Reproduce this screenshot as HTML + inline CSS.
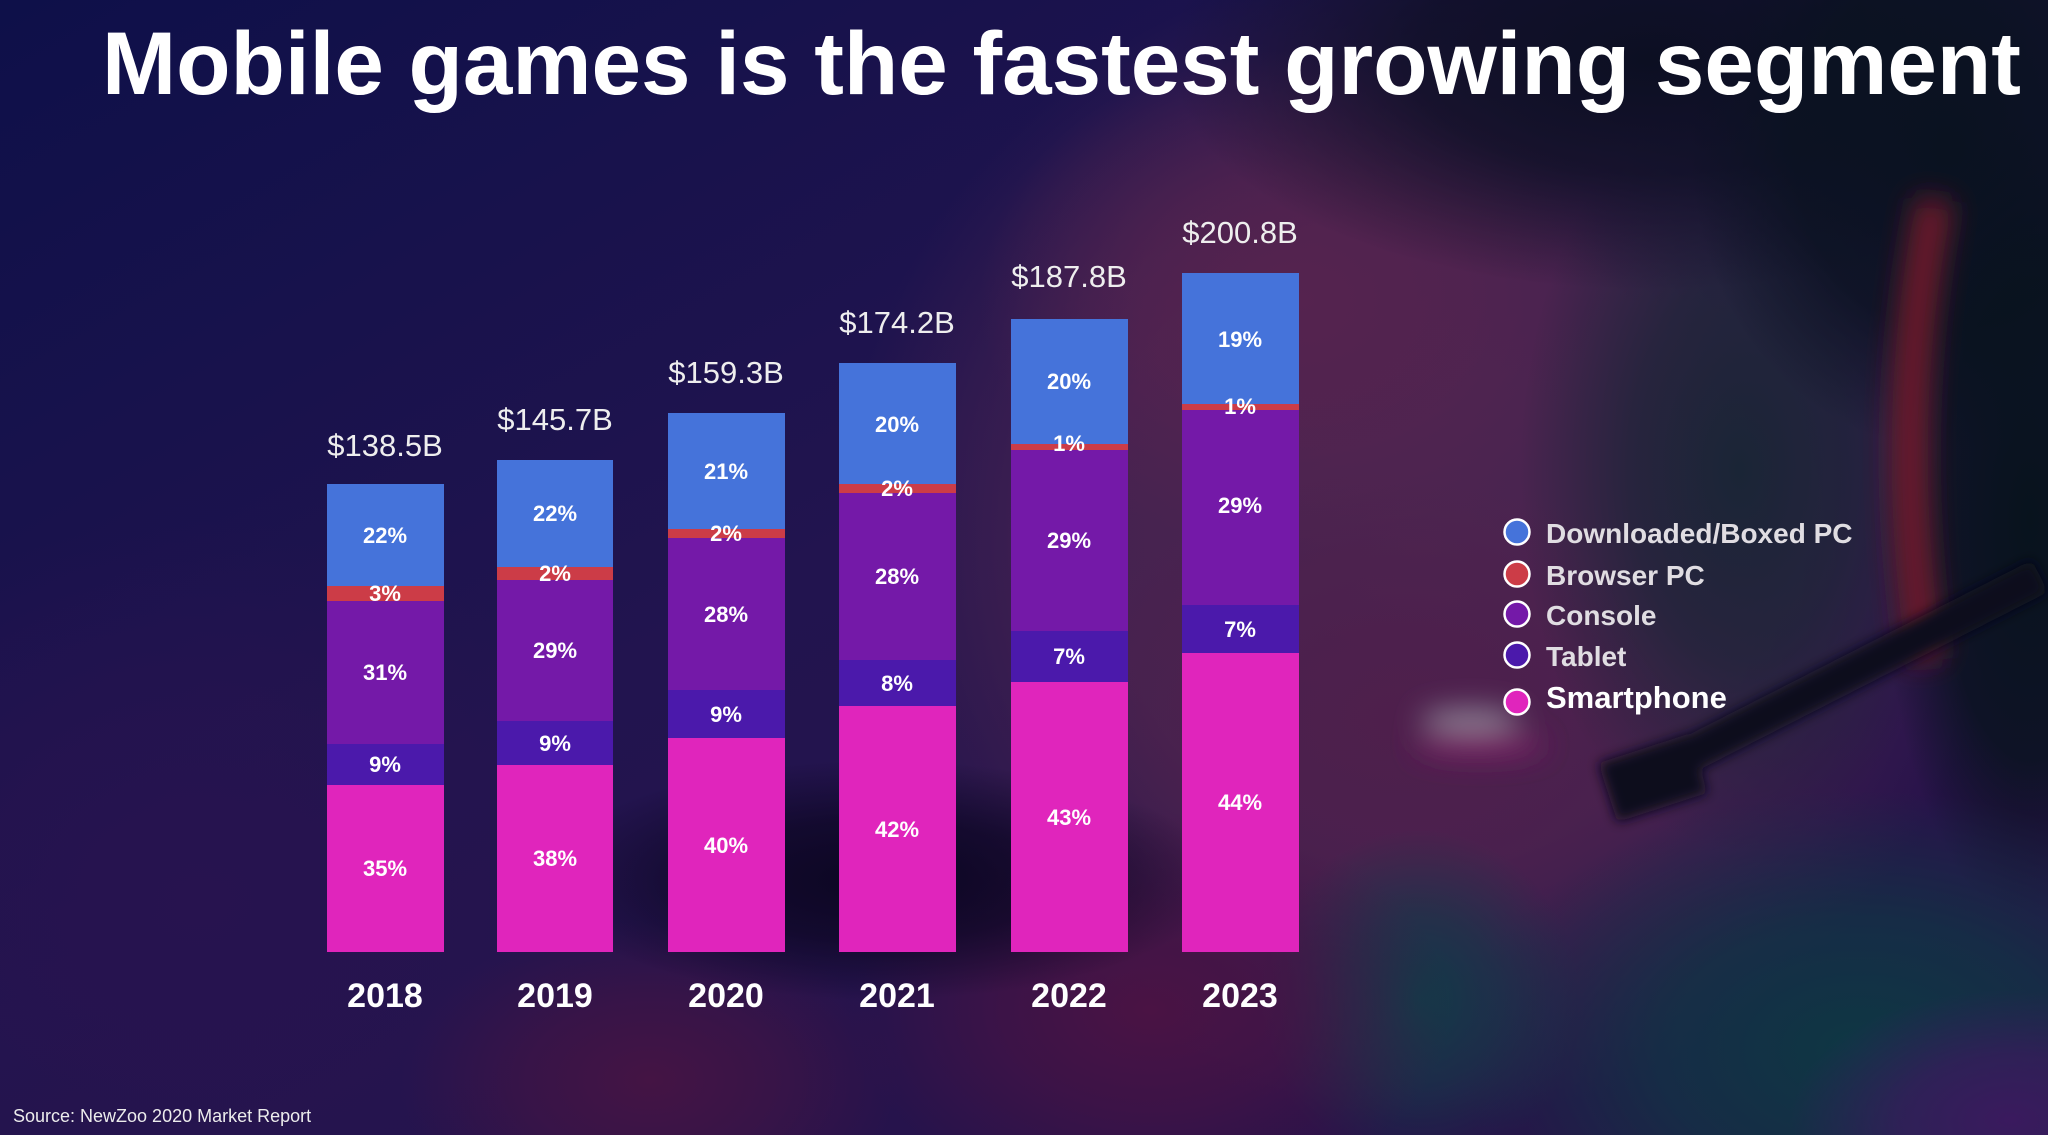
<!DOCTYPE html>
<html><head><meta charset="utf-8"><style>
html,body{margin:0;padding:0;width:2048px;height:1135px;overflow:hidden;background:#1a1250;}
#bg{position:absolute;left:0;top:0;width:2048px;height:1135px;
background:
radial-gradient(340px 120px at 880px 880px, rgba(12,6,34,1) 0%, rgba(12,6,34,0.7) 50%, rgba(12,6,34,0) 100%),
radial-gradient(300px 200px at 1150px 1010px, rgba(74,19,68,1) 0%, rgba(74,19,68,0.6) 50%, rgba(74,19,68,0) 100%),
radial-gradient(250px 160px at 650px 1080px, rgba(68,20,68,1) 0%, rgba(68,20,68,0.6) 50%, rgba(68,20,68,0) 100%),
radial-gradient(160px 170px at 1420px 1000px, rgba(18,58,72,1) 0%, rgba(18,58,72,0.6) 50%, rgba(18,58,72,0) 100%),
radial-gradient(220px 130px at 2010px 1120px, rgba(58,26,94,1) 0%, rgba(58,26,94,0.7) 50%, rgba(58,26,94,0) 100%),
radial-gradient(400px 260px at 1860px 1050px, rgba(14,55,68,1) 0%, rgba(14,55,68,0.7) 50%, rgba(14,55,68,0) 100%),
radial-gradient(150px 400px at 2030px 520px, rgba(8,19,29,1) 0%, rgba(8,19,29,0.8) 60%, rgba(8,19,29,0) 100%),
radial-gradient(260px 300px at 1950px 150px, rgba(10,18,32,1) 0%, rgba(10,18,32,0.8) 60%, rgba(10,18,32,0) 100%),
radial-gradient(480px 230px at 1650px 60px, rgba(12,15,34,1) 0%, rgba(12,15,34,0.75) 50%, rgba(12,15,34,0) 100%),
radial-gradient(220px 380px at 1740px 470px, rgba(26,37,54,1) 0%, rgba(26,37,54,0.7) 50%, rgba(26,37,54,0) 100%),
radial-gradient(330px 250px at 1400px 720px, rgba(78,31,76,1) 0%, rgba(78,31,76,0.6) 50%, rgba(78,31,76,0) 100%),
radial-gradient(320px 250px at 1300px 300px, rgba(85,35,79,1) 0%, rgba(85,35,79,0.65) 50%, rgba(85,35,79,0) 100%),
radial-gradient(580px 580px at 1420px 540px, rgba(76,37,80,1) 0%, rgba(76,37,80,0.85) 55%, rgba(76,37,80,0) 100%),
radial-gradient(450px 380px at 200px 900px, rgba(39,19,79,1) 0%, rgba(39,19,79,0.6) 50%, rgba(39,19,79,0) 100%),
linear-gradient(to bottom right, #0e1049 0%, #22144f 45%, #2a1248 100%);}
svg{display:block;position:absolute;left:0;top:0}
</style></head><body>
<div id="bg"></div>
<svg width="2048" height="1135" viewBox="0 0 2048 1135" xmlns="http://www.w3.org/2000/svg">
<defs>
<filter id="b2" x="-50%" y="-50%" width="200%" height="200%"><feGaussianBlur stdDeviation="14"/></filter>
<filter id="b3" x="-50%" y="-50%" width="200%" height="200%"><feGaussianBlur stdDeviation="6"/></filter>
</defs>
<g filter="url(#b2)">
<path d="M1935 200 Q1890 420 1925 660" stroke="#6e1c2c" stroke-width="36" fill="none"/>
<ellipse cx="1470" cy="720" rx="50" ry="12" fill="#8a7e92"/>
<ellipse cx="1480" cy="745" rx="65" ry="12" fill="#7a2066"/>
</g>
<g filter="url(#b3)">
<line x1="1620" y1="790" x2="2040" y2="576" stroke="#0b0a1a" stroke-width="36"/>
<rect x="1606" y="748" width="95" height="62" fill="#0b0a1a" transform="rotate(-18 1650 780)"/>
</g>

<text x="102" y="94" font-family="Liberation Sans, sans-serif" font-weight="bold" font-size="89" fill="#ffffff">Mobile games is the fastest growing segment</text>

<g font-family="Liberation Sans, sans-serif">
<!-- 2018 -->
<rect x="327" y="484" width="117" height="102" fill="#4573da"/>
<rect x="327" y="586" width="117" height="15" fill="#cc3c47"/>
<rect x="327" y="601" width="117" height="143" fill="#7419a8"/>
<rect x="327" y="744" width="117" height="41" fill="#4b19ab"/>
<rect x="327" y="785" width="117" height="167" fill="#e025bc"/>
<!-- 2019 -->
<rect x="497" y="460" width="116" height="107" fill="#4573da"/>
<rect x="497" y="567" width="116" height="13" fill="#cc3c47"/>
<rect x="497" y="580" width="116" height="141" fill="#7419a8"/>
<rect x="497" y="721" width="116" height="44" fill="#4b19ab"/>
<rect x="497" y="765" width="116" height="187" fill="#e025bc"/>
<!-- 2020 -->
<rect x="668" y="413" width="117" height="116" fill="#4573da"/>
<rect x="668" y="529" width="117" height="9" fill="#cc3c47"/>
<rect x="668" y="538" width="117" height="152" fill="#7419a8"/>
<rect x="668" y="690" width="117" height="48" fill="#4b19ab"/>
<rect x="668" y="738" width="117" height="214" fill="#e025bc"/>
<!-- 2021 -->
<rect x="839" y="363" width="117" height="121" fill="#4573da"/>
<rect x="839" y="484" width="117" height="9" fill="#cc3c47"/>
<rect x="839" y="493" width="117" height="167" fill="#7419a8"/>
<rect x="839" y="660" width="117" height="46" fill="#4b19ab"/>
<rect x="839" y="706" width="117" height="246" fill="#e025bc"/>
<!-- 2022 -->
<rect x="1011" y="319" width="117" height="125" fill="#4573da"/>
<rect x="1011" y="444" width="117" height="6" fill="#cc3c47"/>
<rect x="1011" y="450" width="117" height="181" fill="#7419a8"/>
<rect x="1011" y="631" width="117" height="51" fill="#4b19ab"/>
<rect x="1011" y="682" width="117" height="270" fill="#e025bc"/>
<!-- 2023 -->
<rect x="1182" y="273" width="117" height="131" fill="#4573da"/>
<rect x="1182" y="404" width="117" height="6" fill="#cc3c47"/>
<rect x="1182" y="410" width="117" height="195" fill="#7419a8"/>
<rect x="1182" y="605" width="117" height="48" fill="#4b19ab"/>
<rect x="1182" y="653" width="117" height="299" fill="#e025bc"/>

<g font-size="22" font-weight="bold" fill="#ffffff" text-anchor="middle">
<text x="385" y="543">22%</text><text x="385" y="601">3%</text><text x="385" y="680">31%</text><text x="385" y="772">9%</text><text x="385" y="876">35%</text>
<text x="555" y="521">22%</text><text x="555" y="581">2%</text><text x="555" y="658">29%</text><text x="555" y="751">9%</text><text x="555" y="866">38%</text>
<text x="726" y="479">21%</text><text x="726" y="541">2%</text><text x="726" y="622">28%</text><text x="726" y="722">9%</text><text x="726" y="853">40%</text>
<text x="897" y="432">20%</text><text x="897" y="496">2%</text><text x="897" y="584">28%</text><text x="897" y="691">8%</text><text x="897" y="837">42%</text>
<text x="1069" y="389">20%</text><text x="1069" y="451">1%</text><text x="1069" y="548">29%</text><text x="1069" y="664">7%</text><text x="1069" y="825">43%</text>
<text x="1240" y="347">19%</text><text x="1240" y="414">1%</text><text x="1240" y="513">29%</text><text x="1240" y="637">7%</text><text x="1240" y="810">44%</text>
</g>

<g font-size="31" fill="#eeeeee" text-anchor="middle">
<text x="385" y="456">$138.5B</text>
<text x="555" y="430">$145.7B</text>
<text x="726" y="383">$159.3B</text>
<text x="897" y="333">$174.2B</text>
<text x="1069" y="287">$187.8B</text>
<text x="1240" y="243">$200.8B</text>
</g>

<g font-size="34" font-weight="bold" fill="#ffffff" text-anchor="middle">
<text x="385" y="1007">2018</text>
<text x="555" y="1007">2019</text>
<text x="726" y="1007">2020</text>
<text x="897" y="1007">2021</text>
<text x="1069" y="1007">2022</text>
<text x="1240" y="1007">2023</text>
</g>

<g stroke="#ffffff" stroke-width="2.5">
<circle cx="1517" cy="532" r="12.5" fill="#4573da"/>
<circle cx="1517" cy="574" r="12.5" fill="#cc3c47"/>
<circle cx="1517" cy="614" r="12.5" fill="#7419a8"/>
<circle cx="1517" cy="655" r="12.5" fill="#4b19ab"/>
<circle cx="1517" cy="702" r="12.5" fill="#e025bc"/>
</g>
<g font-size="28" font-weight="bold" fill="#e0dde2">
<text x="1546" y="543">Downloaded/Boxed PC</text>
<text x="1546" y="585">Browser PC</text>
<text x="1546" y="625">Console</text>
<text x="1546" y="666">Tablet</text>
</g>
<text x="1546" y="708" font-size="31" font-weight="bold" fill="#ffffff">Smartphone</text>

<text x="13" y="1122" font-size="18" fill="#ececec">Source: NewZoo 2020 Market Report</text>
</g>
</svg>
</body></html>
